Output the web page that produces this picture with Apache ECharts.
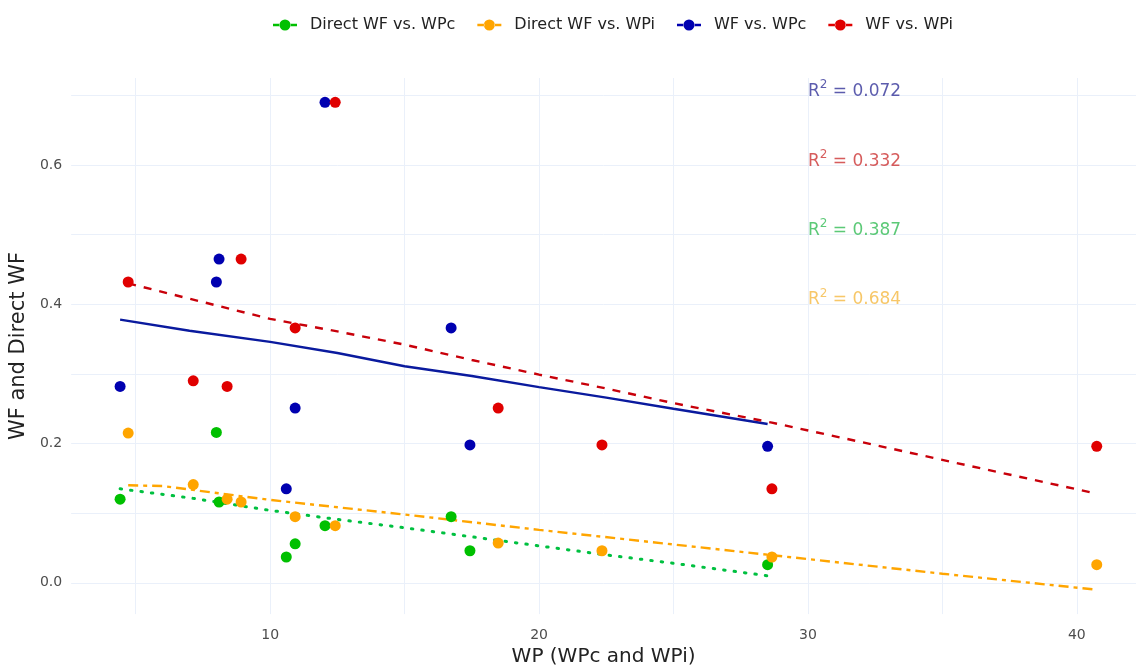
<!DOCTYPE html>
<html>
<head>
<meta charset="utf-8">
<script src="https://cdn.jsdelivr.net/npm/echarts@6/dist/echarts.min.js"></script>
<style>html,body{margin:0;padding:0;background:#fff}#c{width:1136px;height:672px}</style>
</head>
<body>
<div id="c"></div>
<script>
// ---- Data ----
const seriesNames = ['Direct WF vs. WPc', 'Direct WF vs. WPi', 'WF vs. WPc', 'WF vs. WPi'];
const wpc = [4.42, 8.0, 8.1, 12.04, 10.93, 10.6, 16.73, 17.43, 28.5];
const wpi = [4.72, 7.14, 8.4, 8.92, 10.93, 12.42, 18.48, 22.34, 28.66, 40.74];
const wfVsWpc = [0.282, 0.432, 0.465, 0.690, 0.251, 0.135, 0.366, 0.198, 0.196];
const wfVsWpi = [0.432, 0.290, 0.282, 0.465, 0.366, 0.690, 0.251, 0.198, 0.135, 0.196];
const directVsWpc = [0.120, 0.216, 0.116, 0.082, 0.056, 0.037, 0.095, 0.046, 0.026];
const directVsWpi = [0.215, 0.141, 0.120, 0.116, 0.095, 0.082, 0.057, 0.046, 0.037, 0.026];

// smoothed trend curves (x, y)
const trendDirectWpc = [[4.42,0.135],[5,0.132],[7,0.122],[10,0.104],[12.5,0.091],[15,0.079],[17.5,0.066],[20,0.053],[22.5,0.040],[25,0.028],[28.5,0.010]];
const trendDirectWpi = [[4.72,0.140],[6,0.139],[7,0.134],[10,0.119],[15,0.098],[20,0.076],[25,0.055],[30,0.034],[35,0.013],[40.74,-0.010]];
const trendWfWpc = [[4.42,0.378],[7,0.362],[10,0.346],[12.5,0.330],[15,0.311],[17.5,0.297],[20,0.281],[22.5,0.266],[25,0.250],[28.5,0.228]];
const trendWfWpi = [[4.72,0.430],[7,0.408],[10,0.379],[12.5,0.361],[15,0.342],[17.5,0.320],[20,0.299],[22.5,0.279],[25,0.258],[28.66,0.230],[32,0.202],[36,0.168],[40.74,0.128]];

const r2Labels = ['0.072', '0.332', '0.387', '0.684'];
const r2Pos = [[30, 0.708], [30, 0.608], [30, 0.509], [30, 0.409]];
const xTicks = [10, 20, 30, 40];
const yTicks = [0, 0.2, 0.4, 0.6];

// ---- Styles ----
const FONT = 'DejaVu Sans';
const pointColors = ['#00C000', '#FFA500', '#0000B0', '#E00000'];
const lineColors = ['#00C040', '#FFA500', '#0A1A9E', '#C8000A'];
const r2Colors = ['#333399', '#CC3333', '#33BB55', '#F5B942'];

const zip = (xs, ys) => xs.map((x, i) => [x, ys[i]]);
const pointSets = [zip(wpc, directVsWpc), zip(wpi, directVsWpi), zip(wpc, wfVsWpc), zip(wpi, wfVsWpi)];
const trends = [trendDirectWpc, trendDirectWpi, trendWfWpc, trendWfWpi];
const dashes = [[1.5, 9], [10, 5, 4, 5], 'solid', [8, 8]];

const icon = 'path://M0,8.7h7v2.6h-7z M17,8.7h7v2.6h-7z M6.5,10a5.5,5.5 0 1,0 11,0a5.5,5.5 0 1,0 -11,0z';

const series = [];
seriesNames.forEach((n, i) => {
  series.push({
    name: n, type: 'line', data: trends[i], showSymbol: false, symbol: 'none',
    lineStyle: { color: lineColors[i], width: i === 0 ? 3 : 2.4, type: dashes[i], cap: i === 0 ? 'round' : 'butt' },
    itemStyle: { color: pointColors[i] }, z: 2, silent: true
  });
});
seriesNames.forEach((n, i) => {
  series.push({
    name: n, type: 'scatter', data: pointSets[i], symbol: 'circle', symbolSize: 11,
    itemStyle: { color: pointColors[i], opacity: 1 }, z: 3
  });
});
series.push({
  type: 'scatter', symbolSize: 0, silent: true, z: 4,
  data: r2Pos.map((p, i) => ({
    value: p,
    label: {
      show: true, position: 'right', distance: 0,
      formatter: '{r|R}{s|2}{t| = ' + r2Labels[i] + '}',
      rich: {
        r: { fontSize: 17, color: r2Colors[i], fontFamily: FONT, verticalAlign: 'bottom' },
        s: { fontSize: 12, color: r2Colors[i], fontFamily: FONT, verticalAlign: 'bottom', padding: [0, 0, 9, 0] },
        t: { fontSize: 17, color: r2Colors[i], fontFamily: FONT, verticalAlign: 'bottom' }
      }
    }
  }))
});

const chart = echarts.init(document.getElementById('c'), null, { renderer: 'canvas' });
chart.setOption({
  animation: false,
  backgroundColor: '#fff',
  textStyle: { fontFamily: FONT },
  legend: {
    top: 12, left: 268, itemWidth: 24, itemHeight: 14, itemGap: 22,
    data: seriesNames.map((n, i) => ({ name: n, icon: icon, itemStyle: { color: pointColors[i] } })),
    textStyle: { fontSize: 16, color: '#222', fontFamily: FONT, padding: [0, 0, 0, 8] }
  },
  grid: { left: 71, right: 0, top: 78, bottom: 57, containLabel: false },
  xAxis: {
    type: 'value', min: 2.6, max: 42.2,
    name: 'WP (WPc and WPi)', nameLocation: 'middle', nameGap: 30,
    nameTextStyle: { fontSize: 20, color: '#222', fontFamily: FONT },
    axisLine: { show: false }, axisTick: { show: false, customValues: [5, 10, 15, 20, 25, 30, 35, 40] },
    axisLabel: { customValues: xTicks, color: '#4D4D4D', fontSize: 14, margin: 14, fontFamily: FONT },
    splitLine: { show: true, lineStyle: { color: '#EAF0FA', width: 1 } }
  },
  yAxis: {
    type: 'value', min: -0.045, max: 0.725,
    name: 'WF and Direct WF', nameLocation: 'middle', nameGap: 38, nameRotate: 90,
    nameTextStyle: { fontSize: 21, color: '#222', fontFamily: FONT },
    axisLine: { show: false }, axisTick: { show: false, customValues: [0, 0.1, 0.2, 0.3, 0.4, 0.5, 0.6, 0.7] },
    axisLabel: { customValues: yTicks, color: '#4D4D4D', fontSize: 14, margin: 9, fontFamily: FONT, formatter: v => v.toFixed(1) },
    splitLine: { show: true, lineStyle: { color: '#EAF0FA', width: 1 } }
  },
  series: series
});
</script>
</body>
</html>
